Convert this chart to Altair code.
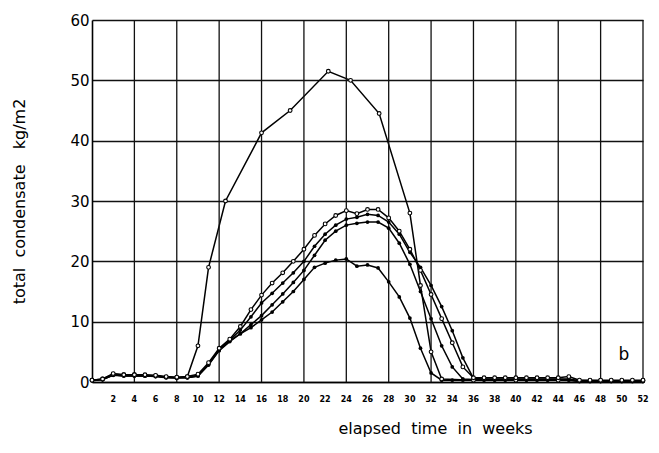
import altair as alt
import pandas as pd

# ---- data ----
weeks = list(range(0, 53))

series_b = [0.3, 0.5, 1.4, 1.2, 1.2, 1.2, 1.1, 0.9, 0.8, 0.9, 1.3, 3.2, 5.6, 7.1,
            9.2, 12.0, 14.4, 16.4, 18.1, 20.0, 22.0, 24.3, 26.2,
            27.6, 28.4, 27.9, 28.6, 28.6, 27.2,
            25.0, 22.0, 18.5, 14.5, 10.5, 6.5, 2.5, 0.7,
            0.7, 0.7, 0.7, 0.7, 0.7, 0.7, 0.7, 0.7, 0.9,
            0.3, 0.3, 0.3, 0.3, 0.3, 0.3, 0.3]
series_c = [0.3, 0.4, 1.2, 1.1, 1.1, 1.0, 1.0, 0.8, 0.7, 0.8, 1.1, 3.0, 5.4, 6.9,
            8.6, 10.8, 13.1, 14.7, 16.4, 18.1, 20.0, 22.5, 24.5,
            26.0, 27.0, 27.3, 27.8, 27.6, 26.5,
            24.5, 21.5, 19.0, 16.0, 12.5, 8.5, 4.0, 0.6,
            0.5, 0.5, 0.5, 0.5, 0.5, 0.5, 0.5, 0.5, 0.5,
            0.2, 0.2, 0.2, 0.2, 0.2, 0.2, 0.2]
series_d = [0.2, 0.4, 1.1, 1.0, 1.0, 1.0, 0.9, 0.7, 0.7, 0.7, 1.0, 2.8, 5.2, 6.7,
            8.0, 9.5, 11.0, 12.8, 14.6, 16.5, 18.5, 21.0, 23.5,
            25.0, 26.0, 26.3, 26.5, 26.5, 25.5,
            23.0, 19.5, 15.0, 10.5, 6.0, 2.5, 0.5,
            0.4, 0.4, 0.4, 0.4, 0.4, 0.4, 0.4, 0.4, 0.4, 0.4,
            0.1, 0.1, 0.1, 0.1, 0.1, 0.1, 0.1]
series_e = [0.3, 0.4, 1.2, 1.0, 1.0, 1.0, 1.0, 0.8, 0.7, 0.7, 1.0, 2.9, 5.3, 6.8,
            8.0, 9.0, 10.3, 11.6, 13.3, 15.0, 17.0, 19.0, 19.7,
            20.2, 20.4, 19.2, 19.4, 18.9, 16.6,
            14.1, 10.6, 5.6, 1.5, 0.3,
            0.3, 0.3, 0.3, 0.3, 0.3, 0.3, 0.3, 0.3, 0.3, 0.3, 0.3, 0.3,
            0.1, 0.1, 0.1, 0.1, 0.1, 0.1, 0.1]

weeks_a = [0, 1, 2, 3, 4, 5, 6, 7, 8, 9, 10, 11, 12.6, 16, 18.7, 22.3, 24.4,
           27.1, 30, 31, 32, 33, 36, 40, 44, 48, 52]
series_a = [0.3, 0.5, 1.3, 1.2, 1.2, 1.1, 1.0, 0.8, 0.7, 0.9, 6.0, 19.0, 30.0,
            41.3, 45.0, 51.5, 50.0, 44.5, 28.0, 16.0, 5.0, 0.5, 0.3, 0.3, 0.3,
            0.2, 0.2]

x_labels = list(range(2, 53, 2))
x_grid = list(range(4, 53, 4))
y_ticks = list(range(0, 61, 10))
panel_label = ["b"]
panel_label_pos = [(50.2, 4.5)]

rows = []
for name, xs, ys, filled in [("A", weeks_a, series_a, False),
                             ("B", weeks, series_b, False),
                             ("C", weeks, series_c, True),
                             ("D", weeks, series_d, True),
                             ("E", weeks, series_e, True)]:
    for x, y in zip(xs, ys):
        rows.append({"series": name, "week": x, "value": y, "filled": filled})
df = pd.DataFrame(rows)

FONT = "DejaVu Sans"
NB = "\u00a0"
xscale = alt.Scale(domain=[0, 52], nice=False, zero=False)
yscale = alt.Scale(domain=[0, 60], nice=False)

x_enc = alt.X("week:Q", scale=xscale,
              axis=alt.Axis(values=x_labels, grid=False, ticks=False,
                            labels=False,
                            domain=True, domainColor="black", domainWidth=1.6,
                            title=f"elapsed{NB}{NB}time{NB}{NB}in{NB}{NB}weeks",
                            titleFont=FONT, titleFontSize=16,
                            titleFontWeight="normal", titleColor="black",
                            titleX=343, titleY=46, titleBaseline="middle"))
y_enc = alt.Y("value:Q", scale=yscale,
              axis=alt.Axis(values=y_ticks, grid=True, gridColor="#111",
                            gridWidth=1.3, ticks=False, domain=True,
                            domainColor="black", domainWidth=1.6,
                            labelFontSize=15, labelFont=FONT,
                            labelColor="black", labelPadding=3,
                            title=f"total{NB}{NB}condensate{NB}{NB}{NB}kg/m2",
                            titleFont=FONT, titleFontSize=16,
                            titleFontWeight="normal", titleColor="black",
                            titleX=-73, titleY=181, titleBaseline="middle",
                            titleAngle=270))

base = alt.Chart(df)

lines = base.mark_line(color="black", strokeWidth=1.5).encode(
    x=x_enc, y=y_enc, detail="series:N", order="week:Q")

filled_pts = base.transform_filter("datum.filled").mark_point(
    shape="circle", filled=True, color="black", size=14, opacity=1).encode(
    x="week:Q", y="value:Q")

open_pts = base.transform_filter("!datum.filled").mark_point(
    shape="circle", filled=True, fill="white", stroke="black",
    strokeWidth=1.1, size=14, opacity=1).encode(x="week:Q", y="value:Q")

grid_df = pd.DataFrame({"week": x_grid})
vgrid = alt.Chart(grid_df).mark_rule(color="#111", strokeWidth=1.3).encode(
    x="week:Q", y=alt.value(0), y2=alt.value(362))

xlab_df = pd.DataFrame({"week": x_labels, "t": [str(v) for v in x_labels]})
xlabels = alt.Chart(xlab_df).mark_text(
    font=FONT, fontSize=8, fontWeight="bold", color="black",
    baseline="middle", align="center").encode(
    x="week:Q", y=alt.value(380), text="t:N")

lab_df = pd.DataFrame({"t": panel_label,
                       "week": [p[0] for p in panel_label_pos],
                       "value": [p[1] for p in panel_label_pos]})
label = alt.Chart(lab_df).mark_text(font=FONT, fontSize=17, color="black",
                                    baseline="middle").encode(
    x="week:Q", y="value:Q", text="t:N")

chart = alt.layer(lines, vgrid, filled_pts, open_pts, label, xlabels).properties(
    width=551, height=362,
    padding={"left": 84, "top": 12, "right": 8, "bottom": 60},
    autosize=alt.AutoSizeParams(type="none"),
    background="white",
).configure_view(stroke=None)

chart.save("out.html", embed_options={"renderer": "svg", "actions": False})
